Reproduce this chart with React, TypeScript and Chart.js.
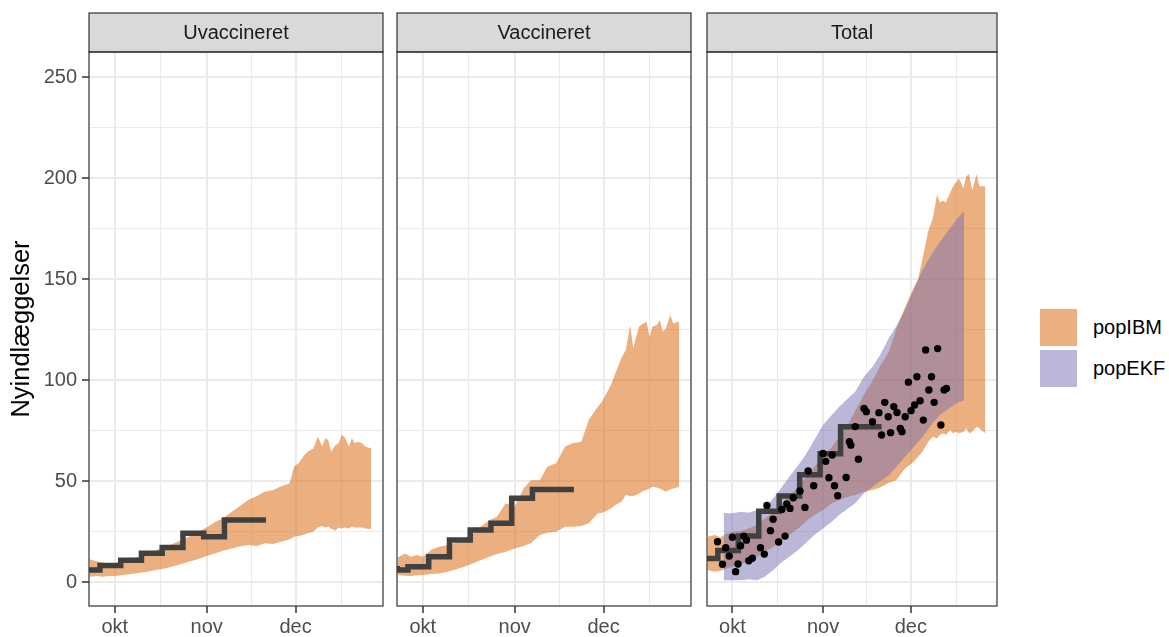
import React, { useEffect, useRef } from "react";
import { Chart, registerables } from "chart.js";

Chart.register(...registerables);

// ---------------- data ----------------
// x values are days counted from 1 October
const monthTickDays = [0, 31, 61];
const monthLabels = ["okt", "nov", "dec"];
const minorTickDays = [15.5, 46, 76.5];
const yMajorTicks = [0, 50, 100, 150, 200, 250];
const yMinorTicks = [25, 75, 125, 175, 225];

const facetTitles = ["Uvaccineret", "Vaccineret", "Total"];
const legendLabels = ["popIBM", "popEKF"];
const yAxisTitle = "Nyindlæggelser";

// popIBM ribbon grid
const ibmDays = [-8.5, -6, -4, -2, 0, 3, 5.5, 8.5, 11, 14, 17, 19.5, 22.5, 25, 28, 31, 34, 36.5, 39.5, 42, 45, 48, 50.5, 53.5, 56, 59, 60.5, 62, 63.5, 65, 67, 68.5, 70, 71, 72, 73, 74.5, 75.5, 76.5, 77.5, 79, 80, 81, 82, 83.5, 84.5, 86.5];

const uvacIbmHigh = [11.4, 10.5, 9.8, 9.4, 9.6, 10.2, 11.9, 12.7, 14.4, 16.0, 17.7, 19.0, 21.0, 22.6, 25.1, 27.2, 30.0, 31.7, 35.0, 37.5, 40.8, 42.7, 44.9, 45.7, 47.4, 49.0, 57.3, 58.9, 62.2, 64.7, 66.3, 72.1, 67.2, 71.3, 70.5, 64.7, 68.0, 68.8, 72.9, 72.1, 67.2, 71.3, 68.8, 69.6, 68.8, 67.2, 66.3];
const uvacIbmLow = [2.8, 3.1, 2.8, 3.1, 3.1, 3.6, 4.1, 4.8, 5.3, 6.1, 6.9, 7.8, 9.1, 10.2, 11.4, 13.0, 14.4, 15.7, 16.8, 17.7, 18.5, 18.0, 19.3, 19.0, 20.1, 21.3, 22.6, 22.9, 23.4, 24.3, 25.1, 27.2, 27.9, 27.2, 27.6, 26.7, 25.6, 27.2, 26.7, 27.2, 26.7, 27.6, 27.2, 27.2, 27.2, 26.7, 26.4];

const vacIbmHigh = [12.3, 14.3, 12.7, 13.5, 12.7, 16.3, 17.6, 18.5, 19.6, 21.8, 24.2, 27.5, 30.8, 32.5, 39.1, 37.4, 46.5, 50.6, 50.6, 57.2, 58.9, 67.2, 68.8, 69.6, 80.3, 86.9, 89.4, 93.6, 97.7, 103.5, 110.9, 115.0, 127.4, 115.8, 121.6, 126.6, 128.2, 129.0, 121.6, 126.6, 127.4, 129.8, 124.1, 125.7, 132.3, 128.2, 129.0];
const vacIbmLow = [3.6, 3.3, 3.1, 3.5, 3.6, 4.1, 4.4, 5.3, 6.4, 7.7, 9.4, 11.0, 12.7, 14.0, 15.2, 16.8, 18.0, 19.3, 23.4, 24.6, 25.1, 27.5, 27.5, 27.9, 29.2, 34.1, 34.5, 35.5, 36.6, 38.3, 39.9, 43.2, 42.7, 42.7, 43.2, 44.0, 45.4, 45.7, 46.5, 47.3, 47.0, 46.5, 45.7, 44.9, 46.0, 46.5, 47.3];

const totalIbmHigh = [22.6, 23.4, 22.2, 24.2, 25.1, 25.6, 26.7, 28.4, 31.5, 35.0, 39.1, 43.0, 47.3, 52.0, 57.2, 62.2, 67.0, 72.0, 78.0, 85.0, 93.0, 100.0, 107.0, 114.0, 125.0, 136.0, 141.0, 146.0, 150.0, 160.0, 174.0, 180.0, 192.0, 188.0, 189.0, 188.0, 193.0, 196.0, 198.0, 200.0, 195.0, 201.0, 202.0, 194.0, 202.0, 196.0, 196.0];
const totalIbmLow = [6.1, 5.3, 5.8, 6.9, 7.7, 9.1, 10.2, 12.7, 15.2, 17.6, 20.9, 23.4, 26.7, 30.0, 33.3, 35.8, 39.1, 40.7, 42.4, 43.2, 44.9, 45.7, 47.0, 49.3, 50.6, 56.4, 58.0, 59.7, 62.2, 64.7, 69.6, 72.1, 71.3, 72.9, 73.8, 72.9, 75.4, 73.8, 74.6, 73.8, 74.6, 76.2, 73.8, 74.6, 77.0, 76.2, 73.8];

// popEKF ribbon (Total only)
const ekfDays = [-3, -1, 1, 3, 5.5, 8.5, 11, 14, 17, 19.5, 22.5, 25, 28, 31, 34, 36.5, 39.5, 42, 45, 48, 50.5, 53.5, 56, 59, 62, 65, 68, 71, 74, 77, 79.2];
const totalEkfHigh = [34.5, 34.1, 34.5, 35.0, 34.5, 35.8, 36.6, 41.6, 47.3, 52.3, 58.0, 63.0, 70.4, 77.9, 82.8, 86.9, 91.0, 94.4, 101.8, 106.8, 112.5, 120.8, 126.6, 134.8, 144.7, 154.6, 162.0, 168.6, 174.4, 180.2, 183.5];
const totalEkfLow = [1.1, 1.1, 1.1, 1.1, 1.5, 1.1, 2.8, 6.1, 10.2, 12.7, 16.0, 19.3, 23.4, 26.7, 30.0, 33.3, 36.6, 39.1, 44.1, 47.3, 50.0, 53.0, 57.0, 62.0, 67.0, 72.0, 78.0, 83.0, 86.0, 89.0, 90.0];

// weekly observed (step lines)
const stepDays = [-8.6, -5, 2, 9, 16, 23, 30, 37, 44, 51];
const uvacWeekly = [5.3, 6.1, 8.3, 11.0, 14.4, 17.2, 24.3, 22.6, 30.9, 30.9];
const vacWeekly = [8.1, 6.1, 7.7, 12.7, 21.0, 25.9, 29.2, 41.6, 46.0, 46.0];
const totalWeekly = [13.0, 11.8, 15.8, 23.0, 35.2, 42.8, 53.2, 63.6, 77.0, 77.0];

// daily observed (Total only)
const dailyDays = [-5.1, -3.4, -2.3, -1.1, 0, 1.1, 1.9, 2.8, 3.9, 4.8, 5.6, 6.8, 9.6, 10.9, 11.8, 13.0, 13.9, 15.8, 16.9, 18.0, 18.6, 19.7, 20.8, 23.1, 24.8, 25.9, 27.8, 31.0, 31.9, 33.0, 34.1, 34.9, 36.0, 38.9, 40.0, 40.5, 42.0, 43.1, 45.0, 45.8, 47.9, 50.1, 51.0, 52.1, 53.3, 54.1, 55.2, 56.3, 57.4, 58.0, 59.1, 60.2, 61.1, 62.3, 63.1, 64.2, 65.3, 66.1, 67.2, 68.1, 69.0, 70.2, 71.3, 72.4, 73.2];
const dailyCounts = [20.1, 9.0, 17.1, 13.0, 22.3, 5.3, 9.1, 18.1, 22.9, 20.9, 10.7, 11.9, 17.1, 14.0, 38.1, 25.6, 31.2, 20.0, 36.1, 22.9, 38.8, 36.6, 41.9, 45.2, 37.1, 55.1, 47.8, 63.8, 59.9, 51.8, 63.0, 47.8, 42.9, 51.9, 69.6, 67.9, 77.1, 60.9, 86.1, 84.5, 79.5, 84.0, 72.9, 89.1, 82.0, 74.1, 87.0, 84.1, 76.2, 74.6, 82.0, 99.1, 85.0, 87.8, 101.8, 89.9, 80.3, 115.0, 95.2, 101.8, 89.1, 115.7, 77.9, 95.2, 96.0];

// ---------------- styling ----------------
const ORANGE = "rgba(217, 95, 2, 0.5)";
const PURPLE = "rgba(117, 112, 179, 0.5)";
const STEP_COLOR = "#404040";
const GRID = "#EBEBEB";
const DARK = "#333333";
const FONT = "'Liberation Sans', Arial, Helvetica, sans-serif";

const PANEL_LEFTS = [89, 397, 705];
const PANEL_W = 294;
const STRIP_TOP = 13;
const PANEL_TOP = 52;
const X_AXIS_H = 31;
const CANVAS_H = 637;

const toPoints = (xs: number[], ys: number[]) => xs.map((x, i) => ({ x, y: ys[i] }));

type PanelSpec = {
  title: string;
  ibmLow: number[];
  ibmHigh: number[];
  weekly: number[];
  ekfLow?: number[];
  ekfHigh?: number[];
  daily?: boolean;
};

const panelSpecs: PanelSpec[] = [
  { title: facetTitles[0], ibmLow: uvacIbmLow, ibmHigh: uvacIbmHigh, weekly: uvacWeekly },
  { title: facetTitles[1], ibmLow: vacIbmLow, ibmHigh: vacIbmHigh, weekly: vacWeekly },
  { title: facetTitles[2], ibmLow: totalIbmLow, ibmHigh: totalIbmHigh, weekly: totalWeekly, ekfLow: totalEkfLow, ekfHigh: totalEkfHigh, daily: true },
];

const stripPlugin = {
  id: "facetStrip",
  afterDraw(chart: any, _args: any, opts: any) {
    const { ctx, chartArea: a } = chart;
    ctx.save();
    ctx.fillStyle = "#D9D9D9";
    ctx.fillRect(a.left, STRIP_TOP, a.right - a.left, a.top - STRIP_TOP);
    ctx.strokeStyle = DARK;
    ctx.lineWidth = 1.2;
    ctx.strokeRect(a.left, STRIP_TOP, a.right - a.left, a.top - STRIP_TOP);
    ctx.strokeRect(a.left, a.top, a.right - a.left, a.bottom - a.top);
    ctx.fillStyle = "#1A1A1A";
    ctx.font = `20px ${FONT}`;
    ctx.textAlign = "center";
    ctx.textBaseline = "middle";
    ctx.fillText(opts.text, (a.left + a.right) / 2, (STRIP_TOP + a.top) / 2 + 1);
    ctx.restore();
  },
};

function buildDatasets(spec: PanelSpec) {
  const ds: any[] = [];
  if (spec.daily) {
    ds.push({
      label: "daily",
      data: toPoints(dailyDays, dailyCounts),
      showLine: false,
      pointRadius: 3.7,
      pointBackgroundColor: "#000000",
      pointBorderWidth: 0,
      order: 0,
    });
  }
  ds.push({
    label: "weekly",
    data: toPoints(stepDays, spec.weekly),
    stepped: "after",
    borderColor: STEP_COLOR,
    borderWidth: 5.5,
    borderJoinStyle: "miter",
    borderCapStyle: "butt",
    pointRadius: 0,
    fill: false,
    order: 1,
  });
  if (spec.ekfLow && spec.ekfHigh) {
    ds.push({
      label: legendLabels[1],
      data: toPoints(ekfDays, spec.ekfHigh),
      fill: "+1",
      backgroundColor: PURPLE,
      borderColor: "rgba(0,0,0,0)",
      borderWidth: 0,
      pointRadius: 0,
      tension: 0,
      order: 2,
    });
    ds.push({
      label: legendLabels[1] + " low",
      data: toPoints(ekfDays, spec.ekfLow),
      fill: false,
      borderColor: "rgba(0,0,0,0)",
      borderWidth: 0,
      pointRadius: 0,
      order: 3,
    });
  }
  ds.push({
    label: legendLabels[0],
    data: toPoints(ibmDays, spec.ibmHigh),
    fill: "+1",
    backgroundColor: ORANGE,
    borderColor: "rgba(0,0,0,0)",
    borderWidth: 0,
    pointRadius: 0,
    order: 4,
  });
  ds.push({
    label: legendLabels[0] + " low",
    data: toPoints(ibmDays, spec.ibmLow),
    fill: false,
    borderColor: "rgba(0,0,0,0)",
    borderWidth: 0,
    pointRadius: 0,
    order: 5,
  });
  return ds;
}

function buildConfig(spec: PanelSpec, i: number): any {
  const first = i === 0;
  const xTicks = [...monthTickDays, ...minorTickDays].sort((a, b) => a - b);
  const yTicks = [...yMajorTicks, ...yMinorTicks].sort((a, b) => a - b);
  const isMajorX = (v: number) => monthTickDays.includes(v);
  const isMajorY = (v: number) => yMajorTicks.includes(v);
  return {
    type: "line",
    data: { datasets: buildDatasets(spec) },
    plugins: [stripPlugin],
    options: {
      responsive: false,
      animation: false,
      devicePixelRatio: 1,
      events: [],
      layout: { padding: { top: PANEL_TOP, left: first ? 0 : 2, right: 2, bottom: 0 } },
      plugins: {
        legend: { display: false },
        tooltip: { enabled: false },
        facetStrip: { text: spec.title },
      },
      scales: {
        x: {
          type: "linear",
          min: -8.7,
          max: 90.5,
          afterBuildTicks: (s: any) => {
            s.ticks = xTicks.map((v) => ({ value: v }));
          },
          afterFit: (s: any) => {
            s.height = X_AXIS_H;
          },
          border: { display: false },
          grid: {
            color: GRID,
            lineWidth: (c: any) => (c.tick && isMajorX(c.tick.value) ? 2 : 1),
            drawTicks: true,
            tickLength: 7,
            tickWidth: 1.5,
            tickColor: (c: any) => (c.tick && isMajorX(c.tick.value) ? DARK : "rgba(0,0,0,0)"),
          },
          ticks: {
            autoSkip: false,
            maxRotation: 0,
            minRotation: 0,
            padding: 2,
            color: "#4D4D4D",
            font: { family: FONT, size: 20 },
            callback: (v: any) => {
              const k = monthTickDays.indexOf(Number(v));
              return k >= 0 ? monthLabels[k] : "";
            },
          },
        },
        y: {
          type: "linear",
          min: -11.7,
          max: 262.5,
          afterBuildTicks: (s: any) => {
            s.ticks = yTicks.map((v) => ({ value: v }));
          },
          afterFit: (s: any) => {
            s.width = first ? PANEL_LEFTS[0] : 0;
          },
          border: { display: false },
          grid: {
            color: GRID,
            lineWidth: (c: any) => (c.tick && isMajorY(c.tick.value) ? 2 : 1),
            drawTicks: first,
            tickLength: first ? 7 : 0,
            tickWidth: 1.5,
            tickColor: (c: any) => (c.tick && isMajorY(c.tick.value) ? DARK : "rgba(0,0,0,0)"),
          },
          ticks: {
            display: first,
            autoSkip: false,
            padding: 5,
            color: "#4D4D4D",
            font: { family: FONT, size: 20 },
            callback: (v: any) => (isMajorY(Number(v)) ? String(v) : ""),
          },
          title: {
            display: first,
            text: yAxisTitle,
            color: "#000000",
            font: { family: FONT, size: 25.5, lineHeight: 1.2 },
            padding: { top: 7, bottom: 0 },
          },
        },
      },
    },
  };
}

export default function App() {
  const r0 = useRef<HTMLCanvasElement>(null);
  const r1 = useRef<HTMLCanvasElement>(null);
  const r2 = useRef<HTMLCanvasElement>(null);
  const refs = [r0, r1, r2];

  useEffect(() => {
    const charts = panelSpecs.map((spec, i) => new Chart(refs[i].current as HTMLCanvasElement, buildConfig(spec, i)));
    return () => charts.forEach((c) => c.destroy());
  }, []);

  const canvasGeom = panelSpecs.map((_, i) =>
    i === 0
      ? { left: 0, width: PANEL_LEFTS[0] + PANEL_W + 2 }
      : { left: PANEL_LEFTS[i] - 2, width: PANEL_W + 4 }
  );

  const legendItems = [
    { label: legendLabels[0], color: ORANGE, top: 309 },
    { label: legendLabels[1], color: PURPLE, top: 350 },
  ];

  return (
    <div style={{ position: "absolute", left: 0, top: 0, width: 1169, height: 637, background: "#ffffff", overflow: "hidden" }}>
      {panelSpecs.map((_, i) => (
        <canvas
          key={i}
          ref={refs[i]}
          width={canvasGeom[i].width}
          height={CANVAS_H}
          style={{ position: "absolute", left: canvasGeom[i].left, top: 0, width: canvasGeom[i].width, height: CANVAS_H }}
        />
      ))}
      {legendItems.map((it) => (
        <React.Fragment key={it.label}>
          <div style={{ position: "absolute", left: 1040, top: it.top, width: 37, height: 37, background: it.color }} />
          <div
            style={{
              position: "absolute",
              left: 1093,
              top: it.top + 6,
              height: 24,
              lineHeight: "24px",
              fontFamily: FONT,
              fontSize: 20,
              color: "#000000",
              whiteSpace: "nowrap",
            }}
          >
            {it.label}
          </div>
        </React.Fragment>
      ))}
    </div>
  );
}
